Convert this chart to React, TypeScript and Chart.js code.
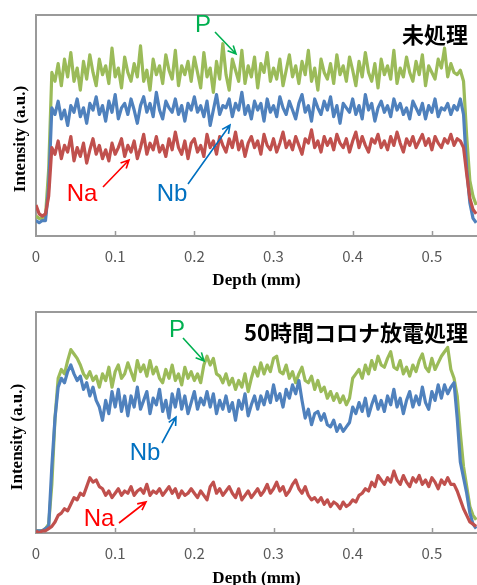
import { useEffect, useRef } from "react";
import { Chart, registerables } from "chart.js";

Chart.register(...registerables);

// Depth grid (mm), one sample every 0.004 mm
const DEPTH_STEP = 0.004;
const N_POINTS = 140;
const DEPTH = Array.from({ length: N_POINTS }, (_, i) => Math.round(i * DEPTH_STEP * 1000) / 1000);
const X_TICKS = [0, 0.1, 0.2, 0.3, 0.4, 0.5];
const X_MAX = 0.557;
const X_TITLE = "Depth (mm)";
const Y_TITLE = "Intensity (a.u.)";
const SERIES_NAMES = ["Na", "Nb", "P"];

// ---- 未処理 (untreated) ----
const TOP_TITLE = "未処理";
const TOP_P = [
  9, 8, 8, 9, 30, 74, 70, 78, 68, 80,
  72, 83, 70, 76, 66, 79, 71, 82, 74, 68,
  80, 73, 77, 69, 85, 72, 76, 67, 81, 74,
  70, 78, 72, 86, 70, 75, 66, 80, 73, 77,
  69, 82, 75, 71, 84, 68, 77, 73, 79, 70,
  81, 74, 67, 83, 72, 76, 65, 79, 71, 87,
  73, 66, 80, 75, 70, 84, 69, 77, 72, 81,
  67, 78, 74, 83, 70, 76, 71, 80, 68, 75,
  82, 72, 77, 69, 79, 73, 84, 70, 76, 66,
  80, 74, 71, 78, 69, 82, 73, 77, 70, 81,
  75, 68, 79, 72, 83, 74, 70, 78, 67, 80,
  73, 77, 71, 84, 69, 76, 72, 81, 74, 70,
  79, 73, 82, 68, 77, 74, 71, 80, 76, 85,
  72, 78, 74, 73, 75, 70, 45, 25, 18, 14,
];
const TOP_NB = [
  7, 6, 7, 7, 22, 58, 55, 61, 53, 57,
  50, 59, 56, 62, 54, 58, 51, 60, 57, 63,
  55, 59, 52, 61, 56, 64, 53, 58, 60, 55,
  62, 57, 51, 59, 63, 56, 60, 54, 65, 57,
  53, 61, 58, 56, 62, 55, 59, 52, 60, 57,
  63, 56, 59, 54, 61, 50, 57, 64, 55, 59,
  58, 62, 54, 60, 57, 65, 55, 59, 53, 61,
  57, 60, 52, 62, 56, 59, 54, 63, 58, 55,
  61, 57, 53, 60, 64, 56, 59, 52, 62, 58,
  55, 61, 57, 63, 54, 59, 51, 60, 58, 56,
  62, 55, 59, 53, 64, 57, 60, 52, 58, 61,
  56, 59, 54, 62, 57, 60, 55, 58, 53, 61,
  58, 55, 60, 53, 59, 56, 62, 54, 58, 57,
  60, 55, 59, 57, 62, 55, 30, 15, 8, 6,
];
const TOP_NA = [
  14, 10, 9, 10, 18, 40, 37, 43, 35, 41,
  38, 45, 34, 40, 36, 42, 33, 39, 44, 37,
  41, 35, 39, 34, 42, 37, 40, 44, 36, 41,
  38, 43, 35, 40, 46, 37, 42, 39, 45, 38,
  41, 36, 44, 39, 47, 40, 37, 43, 35, 42,
  44, 38, 41, 36, 46, 40, 43, 37, 45, 41,
  38, 44, 40, 47, 39, 43, 36, 42, 45, 40,
  43, 37, 46, 41, 39, 44, 38, 42, 47, 40,
  43, 39, 45, 41, 37, 44, 42, 48, 40, 43,
  38, 45, 41, 44, 39, 46, 42, 40, 44, 38,
  43, 47, 40, 45, 41, 38, 44, 42, 46, 40,
  43, 39, 45, 41, 47, 42, 38, 44, 41, 45,
  40, 43, 46, 41, 44, 39, 45, 42, 40, 44,
  42, 46, 41, 44, 43, 40, 28, 17, 12, 10,
];

// ---- 50時間コロナ放電処理 (50 h corona discharge) ----
const BOT_TITLE = "50時間コロナ放電処理";
const BOT_P = [
  1, 1, 1, 2, 4, 22, 52, 70, 74, 72,
  78, 83, 81, 79, 76, 72, 70, 73, 69, 71,
  66, 72, 69, 75, 66, 73, 76, 70, 72, 77,
  73, 69, 78, 73, 76, 71, 78, 72, 75, 70,
  68, 74, 70, 76, 69, 72, 67, 75, 70, 73,
  69, 72, 68, 76, 80, 76, 79, 72, 71, 68,
  72, 67, 70, 65, 69, 66, 72, 64, 70, 75,
  71, 77, 72, 76, 73, 79, 80, 73, 72, 76,
  70, 73, 68, 72, 75, 69, 68, 71, 65, 69,
  64, 66, 61, 64, 60, 63, 59, 62, 58, 61,
  70, 72, 74, 70, 76, 72, 78, 74, 80, 76,
  75, 79, 82, 75, 74, 78, 72, 75, 71, 76,
  73, 78, 81, 75, 73, 79, 74, 77, 80, 82,
  84, 74, 70, 62, 45, 30, 21, 12, 8, 6,
];
const BOT_NB = [
  1, 1, 1, 2, 3, 30, 52, 66, 70, 68,
  73, 76, 72, 69, 71, 65, 68, 62, 66, 60,
  57, 51, 60, 54, 64, 57, 65, 55, 62, 53,
  62, 57, 66, 56, 60, 64, 54, 61, 58, 65,
  55, 60, 52, 63, 57, 65, 56, 62, 54, 59,
  64, 56, 61, 58, 64, 57, 63, 54, 60, 56,
  62, 55, 59, 51, 60, 56, 63, 53, 58, 62,
  56, 62, 58, 64, 59, 67, 60, 63, 57, 65,
  61, 67, 63, 69, 60, 52, 56, 49, 54, 55,
  51, 54, 49, 48, 51, 46, 49, 46, 48, 50,
  57, 54, 59, 55, 61, 53, 58, 62, 56, 60,
  55, 62, 58, 65, 57, 61, 54, 60, 64, 57,
  62, 58, 66, 59, 56, 64, 60, 67, 61, 67,
  63, 66, 68, 52, 32, 25, 18, 9, 4, 2,
];
const BOT_NA = [
  1, 0, 1, 1, 2, 3, 5, 8, 9, 11,
  10, 13, 16, 15, 18, 17, 21, 25, 23, 24,
  21, 20, 17, 19, 16, 18, 20, 17, 19, 18,
  21, 17, 19, 20, 18, 22, 17, 19, 18, 20,
  17, 19, 21, 18, 20, 16, 19, 17, 18, 20,
  18, 16, 19, 17, 15, 21, 23, 18, 20, 17,
  19, 21, 18, 16, 20, 15, 17, 19, 16, 18,
  20, 17, 19, 22, 18, 20, 23, 19, 21, 17,
  19, 22, 24, 20, 18, 21, 17, 15, 16, 14,
  16, 13, 15, 12, 14, 13, 11, 14, 12, 13,
  15, 14, 17, 18, 20, 19, 23, 21, 26, 24,
  22, 25, 23, 28, 24, 22, 26, 23, 21, 25,
  23, 26, 22, 24, 21, 25, 23, 20, 24, 22,
  25, 22, 22, 19, 15, 11, 8, 5, 4, 3,
];

const LINE_COLORS = { Na: "#C0504D", Nb: "#4F81BD", P: "#9BBB59" };
const LABEL_COLORS = { Na: "#FF0000", Nb: "#0070C0", P: "#00B050" };
const AXIS_COLOR = "#9a9a9a";

type Label = { text: string; key: "Na" | "Nb" | "P"; x: number; y: number; ax1: number; ay1: number; ax2: number; ay2: number };
type PanelCfg = {
  title: string;
  titleY: number;
  xTitleY: number;
  yTitleX: number;
  yTitleY: number;
  labels: Label[];
};

function decorPlugin(cfg: PanelCfg) {
  return {
    id: "decor",
    afterDraw(chart: any) {
      const ctx = chart.ctx as CanvasRenderingContext2D;
      const a = chart.chartArea;
      const xs = chart.scales.x;
      ctx.save();
      ctx.strokeStyle = AXIS_COLOR;
      ctx.lineWidth = 2;
      ctx.beginPath();
      ctx.moveTo(a.left - 1, a.top);
      ctx.lineTo(a.right, a.top);
      ctx.stroke();
      ctx.lineWidth = 1.5;
      for (const t of X_TICKS) {
        if (t === 0) continue;
        const px = Math.round(xs.getPixelForValue(t)) + 0.5;
        ctx.beginPath();
        ctx.moveTo(px, a.bottom);
        ctx.lineTo(px, a.bottom - 5);
        ctx.stroke();
      }
      ctx.fillStyle = "#000";
      ctx.textAlign = "center";
      ctx.textBaseline = "middle";
      ctx.font = 'bold 17px "Liberation Serif", serif';
      ctx.fillText(X_TITLE, (a.left + a.right) / 2, cfg.xTitleY);
      ctx.save();
      ctx.translate(cfg.yTitleX, cfg.yTitleY);
      ctx.rotate(-Math.PI / 2);
      ctx.fillText(Y_TITLE, 0, 0);
      ctx.restore();
      ctx.textAlign = "right";
      ctx.font = 'bold 22px "Noto Sans CJK JP", sans-serif';
      ctx.fillText(cfg.title, 468, cfg.titleY);
      for (const l of cfg.labels) {
        const c = LABEL_COLORS[l.key];
        ctx.fillStyle = c;
        ctx.strokeStyle = c;
        ctx.textAlign = "center";
        ctx.font = '24px "Liberation Sans", Arial, sans-serif';
        ctx.fillText(l.text, l.x, l.y);
        ctx.lineWidth = 1.6;
        ctx.beginPath();
        ctx.moveTo(l.ax1, l.ay1);
        ctx.lineTo(l.ax2, l.ay2);
        const ang = Math.atan2(l.ay2 - l.ay1, l.ax2 - l.ax1);
        const hl = 9;
        const spread = 0.45;
        ctx.moveTo(l.ax2 - hl * Math.cos(ang - spread), l.ay2 - hl * Math.sin(ang - spread));
        ctx.lineTo(l.ax2, l.ay2);
        ctx.lineTo(l.ax2 - hl * Math.cos(ang + spread), l.ay2 - hl * Math.sin(ang + spread));
        ctx.stroke();
      }
      ctx.restore();
    },
  };
}

function makeConfig(na: number[], nb: number[], p: number[], cfg: PanelCfg, padTop: number, xAxisH: number): any {
  const series = [na, nb, p];
  return {
    type: "line",
    data: {
      datasets: SERIES_NAMES.map((name, k) => ({
        label: name,
        data: series[k].map((v, i) => ({ x: DEPTH[i], y: v })),
        borderColor: LINE_COLORS[name as "Na" | "Nb" | "P"],
        borderWidth: 3.2,
        pointRadius: 0,
        tension: 0,
        borderJoinStyle: "round",
        fill: false,
      })),
    },
    options: {
      animation: false,
      responsive: false,
      devicePixelRatio: 1,
      layout: { padding: { left: 36, top: padTop, right: 0, bottom: 0 } },
      plugins: { legend: { display: false }, tooltip: { enabled: false }, title: { display: false } },
      scales: {
        x: {
          type: "linear",
          min: 0,
          max: X_MAX,
          grid: { display: false, drawTicks: false },
          border: { display: true, color: AXIS_COLOR, width: 2 },
          afterBuildTicks: (s: any) => {
            s.ticks = X_TICKS.map((v) => ({ value: v }));
          },
          afterFit: (s: any) => {
            s.height = xAxisH;
          },
          ticks: {
            maxRotation: 0,
            autoSkip: false,
            padding: 11,
            color: "#595959",
            font: { family: '"Noto Sans CJK JP", sans-serif', size: 15 },
            callback: (v: number) => String(v),
          },
        },
        y: {
          min: 0,
          max: 100,
          grid: { display: false, drawTicks: false },
          border: { display: true, color: AXIS_COLOR, width: 2 },
          ticks: { display: false },
          afterFit: (s: any) => {
            s.width = 0;
          },
        },
      },
    },
    plugins: [decorPlugin(cfg)],
  };
}

const TOP_CFG: PanelCfg = {
  title: TOP_TITLE,
  titleY: 35,
  xTitleY: 281,
  yTitleX: 21,
  yTitleY: 139,
  labels: [
    { text: "P", key: "P", x: 203, y: 25, ax1: 215, ay1: 32, ax2: 236, ay2: 54 },
    { text: "Na", key: "Na", x: 82, y: 194, ax1: 103, ay1: 187, ax2: 129, ay2: 160 },
    { text: "Nb", key: "Nb", x: 172, y: 194, ax1: 188, ay1: 184, ax2: 230, ay2: 125 },
  ],
};

const BOT_CFG: PanelCfg = {
  title: BOT_TITLE,
  titleY: 37,
  xTitleY: 283,
  yTitleX: 18,
  yTitleY: 141,
  labels: [
    { text: "P", key: "P", x: 177, y: 34, ax1: 183, ay1: 42, ax2: 204, ay2: 65 },
    { text: "Nb", key: "Nb", x: 145, y: 157, ax1: 162, ay1: 147, ax2: 176, ay2: 121 },
    { text: "Na", key: "Na", x: 99, y: 223, ax1: 119, ay1: 227, ax2: 146, ay2: 206 },
  ],
};

export default function App() {
  const topRef = useRef<HTMLCanvasElement>(null);
  const botRef = useRef<HTMLCanvasElement>(null);

  useEffect(() => {
    document.body.style.margin = "0";
    const c1 = new Chart(topRef.current!, makeConfig(TOP_NA, TOP_NB, TOP_P, TOP_CFG, 15, 56));
    const c2 = new Chart(botRef.current!, makeConfig(BOT_NA, BOT_NB, BOT_P, BOT_CFG, 16, 52));
    return () => {
      c1.destroy();
      c2.destroy();
    };
  }, []);

  return (
    <div style={{ position: "relative", width: 477, height: 585, background: "#fff", overflow: "hidden" }}>
      <canvas ref={topRef} width={477} height={292} style={{ position: "absolute", left: 0, top: 0, width: 477, height: 292 }} />
      <canvas ref={botRef} width={477} height={289} style={{ position: "absolute", left: 0, top: 296, width: 477, height: 289 }} />
    </div>
  );
}
